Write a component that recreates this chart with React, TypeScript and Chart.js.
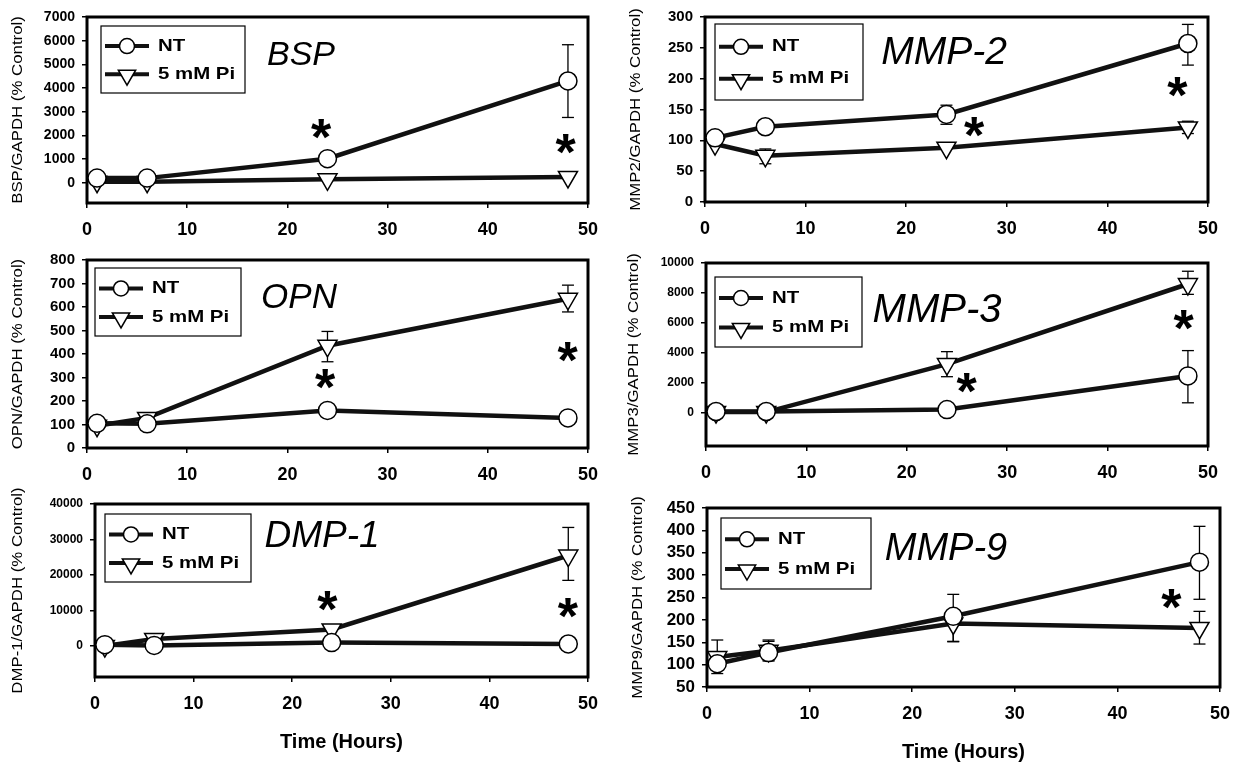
import React, { useEffect, useRef } from "react";
import { Chart, registerables } from "chart.js";

Chart.register(...registerables);

// ---------- data ----------
const hours = [1, 6, 24, 48];
const xTickValues = [0, 10, 20, 30, 40, 50];
const seriesNames = ["NT", "5 mM Pi"];
const xAxisTitle = "Time (Hours)";

// BSP
const bspNT = [200, 200, 1020, 4300];
const bspPi = [50, 50, 150, 250];
const bspNTLow = [null, null, null, 2760];
const bspNTHigh = [null, null, null, 5830];
const bspPiLow = [null, null, null, null];
const bspPiHigh = [null, null, null, null];
const bspYTicks = [0, 1000, 2000, 3000, 4000, 5000, 6000, 7000];
const bspStars = [[23.4, 2280], [47.8, 1650]];

// MMP-2
const mmp2NT = [104, 122, 142, 257];
const mmp2Pi = [94, 75, 88, 121];
const mmp2NTLow = [null, null, 126, 222];
const mmp2NTHigh = [null, null, 157, 288];
const mmp2PiLow = [null, 62, null, 111];
const mmp2PiHigh = [null, 86, null, 131];
const mmp2YTicks = [0, 50, 100, 150, 200, 250, 300];
const mmp2Stars = [[26.8, 121], [47.0, 186]];

// OPN
const opnNT = [105, 103, 160, 128];
const opnPi = [95, 128, 435, 635];
const opnNTLow = [null, null, null, null];
const opnNTHigh = [null, null, null, null];
const opnPiLow = [null, null, 367, 579];
const opnPiHigh = [null, null, 496, 693];
const opnYTicks = [0, 100, 200, 300, 400, 500, 600, 700, 800];
const opnStars = [[23.8, 294], [48.0, 408]];

// MMP-3
const mmp3NT = [100, 100, 230, 2470];
const mmp3Pi = [60, 60, 3260, 8600];
const mmp3NTLow = [null, null, null, 680];
const mmp3NTHigh = [null, null, null, 4160];
const mmp3PiLow = [null, null, 2420, 7910];
const mmp3PiHigh = [null, null, 4090, 9450];
const mmp3YTicks = [0, 2000, 4000, 6000, 8000, 10000];
const mmp3Stars = [[26.0, 2030], [47.6, 6170]];

// DMP-1
const dmp1NT = [400, 200, 1000, 600];
const dmp1Pi = [0, 2000, 4700, 25500];
const dmp1NTLow = [null, null, null, null];
const dmp1NTHigh = [null, null, null, null];
const dmp1PiLow = [null, null, null, 18500];
const dmp1PiHigh = [null, null, null, 33400];
const dmp1YTicks = [0, 10000, 20000, 30000, 40000];
const dmp1Stars = [[23.6, 12700], [48.0, 10800]];

// MMP-9
const mmp9NT = [102, 127, 208, 329];
const mmp9Pi = [117, 131, 192, 182];
const mmp9NTLow = [80, 110, 151, 246];
const mmp9NTHigh = [null, 155, 257, 409];
const mmp9PiLow = [92, 108, 152, 146];
const mmp9PiHigh = [155, 152, 222, 219];
const mmp9YTicks = [50, 100, 150, 200, 250, 300, 350, 400, 450];
const mmp9Stars = [[45.3, 247]];

// ---------- layout / styling ----------
const W = 1239;
const H = 762;
const FONT = '"Liberation Sans", Arial, sans-serif';

type Num = number | null;
type Panel = {
  id: string;
  title: string;
  titleSize: number;
  titleDX: number;
  titleDY: number;
  yTitle: string;
  yTitleX: number;
  yTickSize: number;
  box: { l: number; t: number; r: number; b: number };
  yMin: number;
  yMax: number;
  yTicks: number[];
  nt: number[];
  pi: number[];
  ntLow: Num[];
  ntHigh: Num[];
  piLow: Num[];
  piHigh: Num[];
  stars: number[][];
  legend: { dx: number; dy: number; w: number; h: number };
  showXTitle: boolean;
};

const panels: Panel[] = [
  {
    id: "bsp", title: "BSP", titleSize: 34, titleDX: 214, titleDY: 39,
    yTitle: "BSP/GAPDH (% Control)", yTitleX: 18, yTickSize: 14,
    box: { l: 87, r: 588, t: 17, b: 203 }, yMin: -850, yMax: 7000, yTicks: bspYTicks,
    nt: bspNT, pi: bspPi, ntLow: bspNTLow, ntHigh: bspNTHigh, piLow: bspPiLow, piHigh: bspPiHigh,
    stars: bspStars, legend: { dx: 14, dy: 9, w: 144, h: 67 }, showXTitle: false,
  },
  {
    id: "mmp2", title: "MMP-2", titleSize: 39, titleDX: 239, titleDY: 36,
    yTitle: "MMP2/GAPDH (% Control)", yTitleX: 636, yTickSize: 15,
    box: { l: 705, r: 1208, t: 17, b: 202 }, yMin: 0, yMax: 300, yTicks: mmp2YTicks,
    nt: mmp2NT, pi: mmp2Pi, ntLow: mmp2NTLow, ntHigh: mmp2NTHigh, piLow: mmp2PiLow, piHigh: mmp2PiHigh,
    stars: mmp2Stars, legend: { dx: 10, dy: 7, w: 148, h: 76 }, showXTitle: false,
  },
  {
    id: "opn", title: "OPN", titleSize: 35, titleDX: 212, titleDY: 38,
    yTitle: "OPN/GAPDH (% Control)", yTitleX: 18, yTickSize: 15,
    box: { l: 87, r: 588, t: 260, b: 448 }, yMin: 0, yMax: 800, yTicks: opnYTicks,
    nt: opnNT, pi: opnPi, ntLow: opnNTLow, ntHigh: opnNTHigh, piLow: opnPiLow, piHigh: opnPiHigh,
    stars: opnStars, legend: { dx: 8, dy: 8, w: 146, h: 68 }, showXTitle: false,
  },
  {
    id: "mmp3", title: "MMP-3", titleSize: 40, titleDX: 231, titleDY: 48,
    yTitle: "MMP3/GAPDH (% Control)", yTitleX: 634, yTickSize: 12,
    box: { l: 706, r: 1208, t: 263, b: 446 }, yMin: -2200, yMax: 10000, yTicks: mmp3YTicks,
    nt: mmp3NT, pi: mmp3Pi, ntLow: mmp3NTLow, ntHigh: mmp3NTHigh, piLow: mmp3PiLow, piHigh: mmp3PiHigh,
    stars: mmp3Stars, legend: { dx: 9, dy: 14, w: 147, h: 70 }, showXTitle: false,
  },
  {
    id: "dmp1", title: "DMP-1", titleSize: 37, titleDX: 227, titleDY: 33,
    yTitle: "DMP-1/GAPDH (% Control)", yTitleX: 18, yTickSize: 12,
    box: { l: 95, r: 588, t: 504, b: 677 }, yMin: -8700, yMax: 40000, yTicks: dmp1YTicks,
    nt: dmp1NT, pi: dmp1Pi, ntLow: dmp1NTLow, ntHigh: dmp1NTHigh, piLow: dmp1PiLow, piHigh: dmp1PiHigh,
    stars: dmp1Stars, legend: { dx: 10, dy: 10, w: 146, h: 68 }, showXTitle: true,
  },
  {
    id: "mmp9", title: "MMP-9", titleSize: 38, titleDX: 239, titleDY: 41,
    yTitle: "MMP9/GAPDH (% Control)", yTitleX: 638, yTickSize: 17,
    box: { l: 707, r: 1220, t: 508, b: 687 }, yMin: 50, yMax: 450, yTicks: mmp9YTicks,
    nt: mmp9NT, pi: mmp9Pi, ntLow: mmp9NTLow, ntHigh: mmp9NTHigh, piLow: mmp9PiLow, piHigh: mmp9PiHigh,
    stars: mmp9Stars, legend: { dx: 14, dy: 10, w: 150, h: 71 }, showXTitle: true,
  },
];

// ---------- drawing helpers ----------
function text(
  ctx: CanvasRenderingContext2D, s: string, x: number, y: number, font: string,
  align: CanvasTextAlign = "center", sx = 1, rot = 0
) {
  ctx.save();
  ctx.font = font;
  ctx.fillStyle = "#000";
  ctx.textAlign = align;
  ctx.textBaseline = "middle";
  ctx.translate(x, y);
  if (rot) ctx.rotate(rot);
  ctx.scale(sx, 1);
  ctx.fillText(s, 0, 0);
  ctx.restore();
}

function circle(ctx: CanvasRenderingContext2D, x: number, y: number, r: number) {
  ctx.beginPath();
  ctx.arc(x, y, r, 0, Math.PI * 2);
  ctx.fillStyle = "#fff";
  ctx.fill();
  ctx.lineWidth = 1.5;
  ctx.strokeStyle = "#000";
  ctx.stroke();
}

function triDown(ctx: CanvasRenderingContext2D, x: number, y: number, r: number) {
  const s = Math.sin(Math.PI / 3) * r;
  ctx.beginPath();
  ctx.moveTo(x, y + r);
  ctx.lineTo(x - s, y - r / 2);
  ctx.lineTo(x + s, y - r / 2);
  ctx.closePath();
  ctx.fillStyle = "#fff";
  ctx.fill();
  ctx.lineWidth = 1.5;
  ctx.strokeStyle = "#000";
  ctx.stroke();
}

function makeDecor(p: Panel) {
  return {
    id: "decor_" + p.id,
    beforeDatasetsDraw(chart: any) {
      const ctx: CanvasRenderingContext2D = chart.ctx;
      const { left, top, right, bottom } = chart.chartArea;
      const xs = chart.scales.x;
      const ys = chart.scales.y;
      ctx.save();
      // plot frame
      ctx.strokeStyle = "#000";
      ctx.lineWidth = 3;
      ctx.strokeRect(left, top, right - left, bottom - top);
      // error bars
      ctx.lineWidth = 1.3;
      const bars: [Num[], Num[]][] = [[p.ntLow, p.ntHigh], [p.piLow, p.piHigh]];
      bars.forEach(([lo, hi]) => {
        hours.forEach((h, i) => {
          const a = lo[i];
          const b = hi[i];
          if (a == null && b == null) return;
          const px = xs.getPixelForValue(h);
          [a, b].forEach((v) => {
            if (v == null) return;
            const py = ys.getPixelForValue(v);
            ctx.beginPath();
            ctx.moveTo(px - 6, py);
            ctx.lineTo(px + 6, py);
            ctx.stroke();
          });
          const v0 = (a != null ? a : b) as number;
          const v1 = (b != null ? b : a) as number;
          ctx.beginPath();
          ctx.moveTo(px, ys.getPixelForValue(v0));
          ctx.lineTo(px, ys.getPixelForValue(v1));
          ctx.stroke();
        });
      });
      ctx.restore();
    },
    afterDatasetsDraw(chart: any) {
      const ctx: CanvasRenderingContext2D = chart.ctx;
      const { left, top, right, bottom } = chart.chartArea;
      const xs = chart.scales.x;
      const ys = chart.scales.y;
      ctx.save();

      // legend
      const lg = p.legend;
      const lx = left + lg.dx;
      const ly = top + lg.dy;
      ctx.fillStyle = "#fff";
      ctx.fillRect(lx, ly, lg.w, lg.h);
      ctx.lineWidth = 1.2;
      ctx.strokeStyle = "#000";
      ctx.strokeRect(lx, ly, lg.w, lg.h);
      const rows = [ly + lg.h * 0.3, ly + lg.h * 0.72];
      rows.forEach((ry, k) => {
        ctx.beginPath();
        ctx.lineWidth = 4;
        ctx.strokeStyle = "#111";
        ctx.moveTo(lx + 4, ry);
        ctx.lineTo(lx + 48, ry);
        ctx.stroke();
        if (k === 0) circle(ctx, lx + 26, ry, 7.5);
        else triDown(ctx, lx + 26, ry + 1, 10);
        text(ctx, seriesNames[k], lx + 57, ry, `bold 17px ${FONT}`, "left", 1.2);
      });

      // panel title
      text(ctx, p.title, left + p.titleDX, top + p.titleDY, `italic ${p.titleSize}px ${FONT}`, "center");

      // significance stars
      ctx.font = `bold 52px ${FONT}`;
      p.stars.forEach(([sx, sy]) => {
        const m = ctx.measureText("*");
        const px = xs.getPixelForValue(sx);
        const py = ys.getPixelForValue(sy);
        const asc = m.actualBoundingBoxAscent;
        const desc = m.actualBoundingBoxDescent;
        const lft = m.actualBoundingBoxLeft;
        const rgt = m.actualBoundingBoxRight;
        ctx.fillStyle = "#000";
        ctx.textAlign = "left";
        ctx.textBaseline = "alphabetic";
        ctx.fillText("*", px - (rgt - lft) / 2, py + (asc - desc) / 2);
      });

      // y tick labels
      ys.ticks.forEach((t: any) => {
        const py = ys.getPixelForValue(t.value);
        text(ctx, String(t.value), left - 12, py, `bold ${p.yTickSize}px ${FONT}`, "right");
      });
      // x tick labels
      xs.ticks.forEach((t: any) => {
        const px = xs.getPixelForValue(t.value);
        text(ctx, String(t.value), px, bottom + 27, `bold 18px ${FONT}`, "center");
      });
      // y title
      text(ctx, p.yTitle, p.yTitleX, (top + bottom) / 2, `15px ${FONT}`, "center", 1.12, -Math.PI / 2);
      // x title
      if (p.showXTitle) {
        text(ctx, xAxisTitle, (left + right) / 2, bottom + 65, `bold 20px ${FONT}`, "center");
      }
      ctx.restore();
    },
  };
}

function buildConfig(p: Panel): any {
  const lineCommon = {
    borderColor: "#111",
    borderWidth: 4.5,
    pointBackgroundColor: "#fff",
    pointBorderColor: "#000",
    pointBorderWidth: 1.5,
    tension: 0,
    clip: false as any,
  };
  return {
    type: "line",
    data: {
      datasets: [
        {
          ...lineCommon,
          label: seriesNames[0],
          data: hours.map((h, i) => ({ x: h, y: p.nt[i] })),
          pointStyle: "circle",
          pointRadius: 9,
        },
        {
          ...lineCommon,
          label: seriesNames[1],
          data: hours.map((h, i) => ({ x: h, y: p.pi[i] })),
          pointStyle: "triangle",
          pointRotation: 180,
          pointRadius: 11,
        },
      ],
    },
    options: {
      responsive: false,
      animation: false,
      devicePixelRatio: 1,
      events: [],
      layout: {
        padding: { left: p.box.l, top: p.box.t, right: W - p.box.r, bottom: H - p.box.b },
      },
      plugins: { legend: { display: false }, tooltip: { enabled: false }, title: { display: false } },
      scales: {
        x: {
          type: "linear",
          min: 0,
          max: 50,
          afterBuildTicks: (s: any) => { s.ticks = xTickValues.map((v) => ({ value: v })); },
          afterFit: (s: any) => { s.height = 0; },
          grid: { display: true, drawOnChartArea: false, drawTicks: true, tickLength: 5, color: "#000", lineWidth: 1.5 },
          border: { display: false },
          ticks: { display: false },
        },
        y: {
          type: "linear",
          min: p.yMin,
          max: p.yMax,
          afterBuildTicks: (s: any) => { s.ticks = p.yTicks.map((v) => ({ value: v })); },
          afterFit: (s: any) => { s.width = 0; },
          grid: { display: true, drawOnChartArea: false, drawTicks: true, tickLength: 5, color: "#000", lineWidth: 1.5 },
          border: { display: false },
          ticks: { display: false },
        },
      },
    },
    plugins: [makeDecor(p)],
  };
}

function PanelChart({ panel }: { panel: Panel }) {
  const ref = useRef<HTMLCanvasElement | null>(null);
  useEffect(() => {
    if (!ref.current) return;
    const chart = new Chart(ref.current, buildConfig(panel));
    return () => chart.destroy();
  }, [panel]);
  return (
    <canvas
      ref={ref}
      width={W}
      height={H}
      style={{ position: "absolute", left: 0, top: 0, width: W, height: H }}
    />
  );
}

export default function App() {
  return (
    <div style={{ position: "fixed", left: 0, top: 0, width: W, height: H, background: "#fff", overflow: "hidden" }}>
      {panels.map((p) => (
        <PanelChart key={p.id} panel={p} />
      ))}
    </div>
  );
}
